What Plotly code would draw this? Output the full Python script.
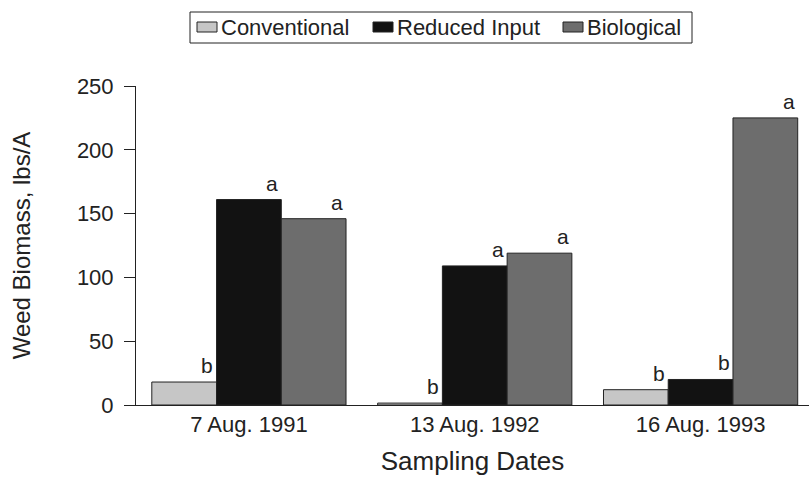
import plotly.graph_objects as go

dates = ["7 Aug. 1991", "13 Aug. 1992", "16 Aug. 1993"]
conventional = [18, 1.5, 12]
reduced_input = [161, 109, 20]
biological = [146, 119, 225]
letters_conv = ["b", "b", "b"]
letters_red = ["a", "a", "b"]
letters_bio = ["a", "a", "a"]
yticks = [0, 50, 100, 150, 200, 250]

FONT = "Liberation Sans, Arial, Helvetica, sans-serif"
INK = "#222222"
bargap = 0.14
w = (1 - bargap) / 3

# plot area in pixels (for converting legend placement to paper coords)
L, R, T, B = 136, 0, 86, 72
W, H = 809, 477
PW, PH = W - L - R, H - T - B
def px(x):
    return (x - L) / PW
def py(y):
    return (H - B - y) / PH

fig = go.Figure()
series = [
    ("Conventional", conventional, "#c6c6c6", letters_conv),
    ("Reduced Input", reduced_input, "#121212", letters_red),
    ("Biological", biological, "#6d6d6d", letters_bio),
]
for name, vals, col, _ in series:
    fig.add_trace(go.Bar(name=name, x=dates, y=vals, showlegend=False,
                         marker=dict(color=col, line=dict(color=INK, width=1))))

for k, (name, vals, col, letters) in enumerate(series):
    for i, v in enumerate(vals):
        xc = i + (k - 1) * w + w * 0.36
        fig.add_annotation(x=xc, y=v, text=letters[i], showarrow=False, yanchor="bottom",
                           xref="x", yref="y", yshift=3, font=dict(family=FONT, size=21, color=INK))

# custom legend (box, swatches, labels)
fig.add_shape(type="rect", xref="paper", yref="paper", x0=px(190), x1=px(692), y0=py(43), y1=py(12),
              line=dict(color=INK, width=1), fillcolor="white")
legend_x = [197, 373, 563]
for (name, vals, col, _), lx in zip(series, legend_x):
    fig.add_shape(type="rect", xref="paper", yref="paper", x0=px(lx), x1=px(lx + 20),
                  y0=py(32), y1=py(22), line=dict(color=INK, width=1), fillcolor=col)
    fig.add_annotation(xref="paper", yref="paper", x=px(lx + 22), y=py(27), text=name,
                       showarrow=False, xanchor="left", yanchor="middle",
                       font=dict(family=FONT, size=22, color=INK))

fig.update_layout(
    width=W, height=H,
    margin=dict(l=L, r=R, t=T, b=B),
    paper_bgcolor="white", plot_bgcolor="white",
    barmode="group", bargap=bargap, bargroupgap=0,
    font=dict(family=FONT, size=22, color=INK),
    showlegend=False,
)
fig.update_xaxes(range=[-0.5, 2.48], showline=True, linecolor=INK, linewidth=1,
                 ticks="", tickfont=dict(size=22),
                 title=dict(text="Sampling Dates", font=dict(size=26), standoff=15))
fig.update_yaxes(range=[0, 250], tickvals=yticks, showline=True, linecolor=INK, linewidth=1,
                 ticks="outside", ticklen=11, tickcolor=INK, showgrid=False, zeroline=False,
                 tickfont=dict(size=22), ticklabelstandoff=6,
                 title=dict(text="Weed Biomass, lbs/A", font=dict(size=24), standoff=39))
fig.write_html("out.html")
